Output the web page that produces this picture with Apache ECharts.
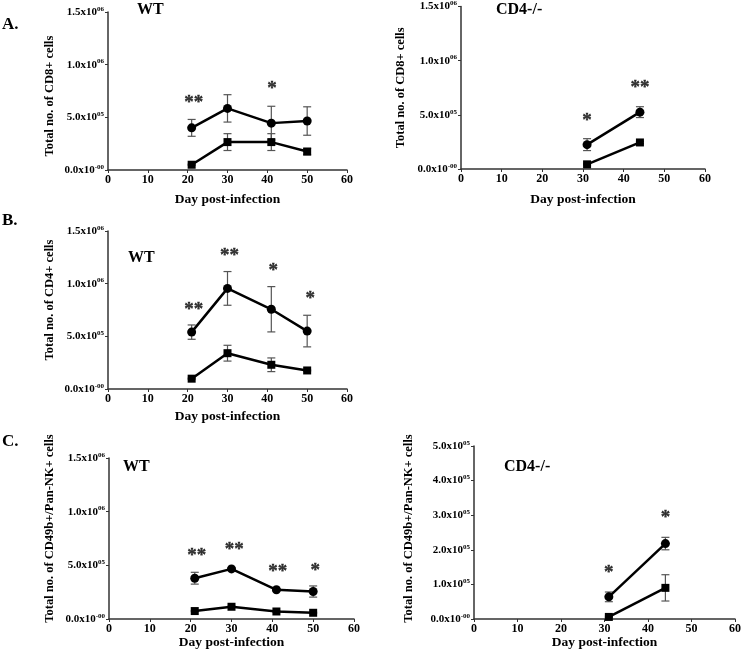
<!DOCTYPE html>
<html><head><meta charset="utf-8">
<script src="https://cdn.jsdelivr.net/npm/echarts@6/dist/echarts.min.js"></script>
<style>html,body{margin:0;padding:0;background:#fff}#c{width:744px;height:660px}</style>
</head><body><div id="c"></div>
<script>
// ---------- DATA ----------
const daysWT = [21, 30, 41, 50];
const daysKO = [31, 44];
const xTicks = [0, 10, 20, 30, 40, 50, 60];

// A. CD8+ WT
const cd8WT_circle = [4.0e5, 5.85e5, 4.45e5, 4.65e5];
const cd8WT_circleSEM = [0.8e5, 1.3e5, 1.6e5, 1.35e5];
const cd8WT_square = [0.5e5, 2.65e5, 2.65e5, 1.75e5];
const cd8WT_squareSEM = [0.05e5, 0.8e5, 0.8e5, 0.3e5];
const cd8WT_stars = [[21.5, 6.7e5, '**'], [41.2, 8.1e5, '*']];

// A. CD8+ CD4-/-
const cd8KO_circle = [2.25e5, 5.25e5];
const cd8KO_circleSEM = [0.55e5, 0.5e5];
const cd8KO_square = [0.43e5, 2.45e5];
const cd8KO_squareSEM = [0.05e5, 0.1e5];
const cd8KO_stars = [[31, 4.8e5, '*'], [44, 7.8e5, '**']];

// B. CD4+ WT
const cd4WT_circle = [5.4e5, 9.55e5, 7.57e5, 5.5e5];
const cd4WT_circleSEM = [0.68e5, 1.6e5, 2.15e5, 1.5e5];
const cd4WT_square = [0.98e5, 3.4e5, 2.3e5, 1.76e5];
const cd4WT_squareSEM = [0.05e5, 0.75e5, 0.65e5, 0.05e5];
const cd4WT_stars = [[21.5, 7.9e5, '**'], [30.5, 12.96e5, '**'], [41.5, 11.6e5, '*'], [50.8, 8.9e5, '*']];

// C. CD49b+/Pan-NK+ WT
const nkWT_circle = [3.8e5, 4.67e5, 2.72e5, 2.56e5];
const nkWT_circleSEM = [0.55e5, 0.08e5, 0.08e5, 0.52e5];
const nkWT_square = [0.74e5, 1.14e5, 0.7e5, 0.58e5];
const nkWT_squareSEM = [0.05e5, 0.05e5, 0.05e5, 0.05e5];
const nkWT_stars = [[21.5, 6.27e5, '**'], [30.7, 6.8e5, '**'], [41.3, 4.73e5, '**'], [50.5, 4.88e5, '*']];

// C. CD49b+/Pan-NK+ CD4-/-
const nkKO_circle = [0.64e5, 2.18e5];
const nkKO_circleSEM = [0.14e5, 0.18e5];
const nkKO_square = [0.06e5, 0.9e5];
const nkKO_squareSEM = [0.02e5, 0.38e5];
const nkKO_stars = [[31, 1.45e5, '*'], [44, 3.04e5, '*']];

// ---------- PANELS ----------
const panels = [
  {grid:{left:108, top:12, width:239, height:158}, ymax:1.5e6, yint:5e5, yname:'Total no. of CD8+ cells', ygap:52, xgap:23, ypad:[0,10,0,0],
   days:daysWT, c:cd8WT_circle, cs:cd8WT_circleSEM, s:cd8WT_square, ss:cd8WT_squareSEM, stars:cd8WT_stars},
  {grid:{left:461, top:6, width:244, height:163}, ymax:1.5e6, yint:5e5, yname:'Total no. of CD8+ cells', ygap:54, xgap:24, ypad:[0,0,0,0],
   days:daysKO, c:cd8KO_circle, cs:cd8KO_circleSEM, s:cd8KO_square, ss:cd8KO_squareSEM, stars:cd8KO_stars},
  {grid:{left:108, top:231, width:239, height:158}, ymax:1.5e6, yint:5e5, yname:'Total no. of CD4+ cells', ygap:52, xgap:21, ypad:[0,0,0,20],
   days:daysWT, c:cd4WT_circle, cs:cd4WT_circleSEM, s:cd4WT_square, ss:cd4WT_squareSEM, stars:cd4WT_stars},
  {grid:{left:109, top:458, width:245, height:161}, ymax:1.5e6, yint:5e5, yname:'Total no. of CD49b+/Pan-NK+ cells', ygap:53, xgap:16, ypad:[0,0,0,20],
   days:daysWT, c:nkWT_circle, cs:nkWT_circleSEM, s:nkWT_square, ss:nkWT_squareSEM, stars:nkWT_stars},
  {grid:{left:474, top:446, width:262, height:173}, ymax:5e5, yint:1e5, yname:'Total no. of CD49b+/Pan-NK+ cells', ygap:59, xgap:14, ypad:[0,0,0,8],
   days:daysKO, c:nkKO_circle, cs:nkKO_circleSEM, s:nkKO_square, ss:nkKO_squareSEM, stars:nkKO_stars}
];

const FONT = '"Liberation Serif", "Times New Roman", serif';
const AXC = '#333';

function yFmt(v) {
  if (v === 0) return '{a|0.0x10}{b|-00}';
  const e = Math.floor(Math.log10(v) + 1e-9);
  const m = v / Math.pow(10, e);
  return '{a|' + m.toFixed(1) + 'x10}{b|' + String(e).padStart(2, '0') + '}';
}

const grids = [], xAxes = [], yAxes = [], series = [];
panels.forEach((p, i) => {
  grids.push(Object.assign({containLabel:false}, p.grid));
  xAxes.push({
    type:'value', gridIndex:i, min:0, max:60, interval:10,
    name:'Day post-infection', nameLocation:'middle', nameGap:p.xgap,
    nameTextStyle:{fontFamily:FONT, fontWeight:'bold', fontSize:13.5, color:'#000'},
    axisLine:{show:true, lineStyle:{color:AXC, width:1.5}},
    axisTick:{show:true, length:3, lineStyle:{color:AXC}},
    axisLabel:{fontFamily:FONT, fontWeight:'bold', fontSize:12, color:'#000', margin:4},
    splitLine:{show:false}
  });
  yAxes.push({
    type:'value', gridIndex:i, min:0, max:p.ymax, interval:p.yint,
    name:p.yname, nameLocation:'middle', nameRotate:90, nameGap:p.ygap,
    nameTextStyle:{fontFamily:FONT, fontWeight:'bold', fontSize:12.5, color:'#000', padding:p.ypad},
    axisLine:{show:true, lineStyle:{color:AXC, width:1.5}},
    axisTick:{show:true, length:3, lineStyle:{color:AXC}},
    axisLabel:{formatter:yFmt, margin:4,
      rich:{a:{fontFamily:FONT, fontWeight:'bold', fontSize:11, color:'#000'},
            b:{fontFamily:FONT, fontWeight:'bold', fontSize:7, color:'#000', verticalAlign:'top', lineHeight:13}}},
    splitLine:{show:false}
  });
  const errSeries = (means, sems) => ({
    type:'custom', xAxisIndex:i, yAxisIndex:i, z:1, silent:true,
    data: p.days.map((d, k) => [d, means[k] - sems[k], means[k] + sems[k]]),
    renderItem: (params, api) => {
      const lo = api.coord([api.value(0), api.value(1)]);
      const hi = api.coord([api.value(0), api.value(2)]);
      const w = 4;
      const st = {stroke:'#555', lineWidth:1.2};
      return {type:'group', children:[
        {type:'line', shape:{x1:lo[0], y1:lo[1], x2:hi[0], y2:hi[1]}, style:st},
        {type:'line', shape:{x1:lo[0]-w, y1:lo[1], x2:lo[0]+w, y2:lo[1]}, style:st},
        {type:'line', shape:{x1:hi[0]-w, y1:hi[1], x2:hi[0]+w, y2:hi[1]}, style:st}
      ]};
    }
  });
  series.push(errSeries(p.c, p.cs));
  series.push(errSeries(p.s, p.ss));
  series.push({type:'line', xAxisIndex:i, yAxisIndex:i, z:3, symbol:'circle', symbolSize:9,
    data:p.days.map((d, k) => [d, p.c[k]]),
    lineStyle:{color:'#000', width:2.5}, itemStyle:{color:'#000'}, silent:true, animation:false});
  series.push({type:'line', xAxisIndex:i, yAxisIndex:i, z:3, symbol:'rect', symbolSize:8,
    data:p.days.map((d, k) => [d, p.s[k]]),
    lineStyle:{color:'#000', width:2.5}, itemStyle:{color:'#000'}, silent:true, animation:false});
  series.push({type:'scatter', xAxisIndex:i, yAxisIndex:i, z:4, symbolSize:0, silent:true,
    data:p.stars.map(s => ({value:[s[0], s[1]], label:{formatter:s[2]}})),
    label:{show:true, position:'inside', fontFamily:FONT, fontWeight:'bold', fontSize:19, color:'#000',
      textBorderColor:'#000', textBorderWidth:0.35, offset:[0, 4]}});
});

const tStyle = (t, x, y, fs) => ({type:'text', left:x, top:y,
  style:{text:t, font:'bold ' + fs + 'px ' + FONT, fill:'#000'}});

const chart = echarts.init(document.getElementById('c'), null, {renderer:'canvas'});
chart.setOption({
  animation:false,
  backgroundColor:'#fff',
  grid:grids, xAxis:xAxes, yAxis:yAxes, series:series,
  graphic:[
    tStyle('A.', 2, 16, 17), tStyle('B.', 2, 212, 17), tStyle('C.', 2, 433, 17),
    tStyle('WT', 137, 2, 16), tStyle('CD4-/-', 496, 2, 16),
    tStyle('WT', 128, 250, 16), tStyle('WT', 123, 459, 16), tStyle('CD4-/-', 504, 459, 16)
  ]
});
</script></body></html>
